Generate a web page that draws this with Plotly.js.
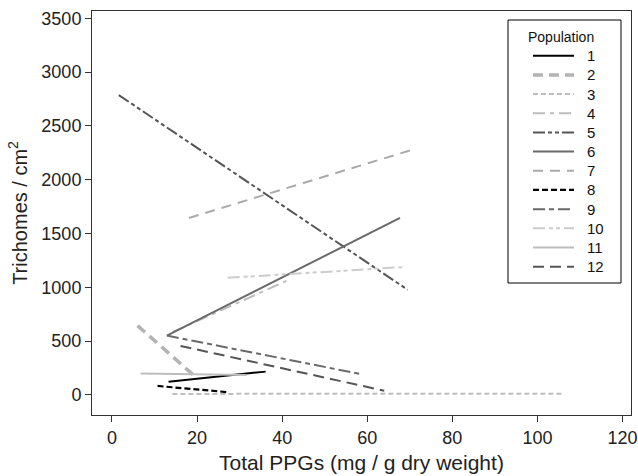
<!DOCTYPE html>
<html>
<head>
<meta charset="utf-8">
<script src="https://cdn.plot.ly/plotly-3.0.1.min.js"></script>
<style>html,body{margin:0;padding:0;background:#fff;}#chart{width:638px;height:476px;}</style>
</head>
<body>
<div id="chart"></div>
<script>
// Population regression lines: start/end values
const populations = ['1','2','3','4','5','6','7','8','9','10','11','12'];
const xStart = [13.3, 6.0, 14.2, 14.3, 1.6, 12.9, 18.1, 10.7, 12.9, 27.2, 6.7, 16.1];
const xEnd   = [36.1, 20.0, 105.7, 41.0, 69.5, 67.7, 71.5, 27.5, 58.4, 68.7, 31.6, 64.0];
const yStart = [124, 645, 10, 585, 2787, 552, 1645, 84, 552, 1089, 200, 456];
const yEnd   = [217, 155, 12, 1060, 977, 1645, 2290, 25, 195, 1189, 185, 40];
const xTicks = [0, 20, 40, 60, 80, 100, 120];
const yTicks = [0, 500, 1000, 1500, 2000, 2500, 3000, 3500];

const colors = ['#000000','#b3b3b3','#bdbdbd','#bdbdbd','#555555','#6a6a6a','#aaaaaa','#000000','#6a6a6a','#cccccc','#bdbdbd','#555555'];
const dashes = ['solid','10px,6px','5px,3px','12px,5px,4px,5px','12px,3px,4px,3px,4px,3px','solid','10px,7px','6px,3px','12px,4px,5px,4px','12px,4px,4px,3px,4px,4px','solid','11px,6px'];
const widths = [2,3.5,2,2,2,2,2,2.2,2,2,2,2];

const W = 638, H = 476, M = {l:92, r:7, t:11, b:61};
const px2x = px => (px - M.l) / (W - M.l - M.r);
const px2y = py => (H - M.b - py) / (H - M.t - M.b);

const traces = populations.map((p,i)=>({
  type:'scatter', mode:'lines', name:p, showlegend:false,
  x:[xStart[i], xEnd[i]], y:[yStart[i], yEnd[i]],
  line:{color:colors[i], dash:dashes[i], width:widths[i]}
}));

// Hand-built legend box (matches the reference layout)
const shapes = [{
  type:'rect', xref:'paper', yref:'paper',
  x0:px2x(508), x1:px2x(621), y0:px2y(283), y1:px2y(20),
  line:{color:'#000', width:1}, fillcolor:'#fff', layer:'above'
}];
const annotations = [{
  xref:'paper', yref:'paper', x:px2x(561), y:px2y(36.7), xanchor:'center', yanchor:'middle',
  text:'Population', showarrow:false, font:{size:14, color:'#111'}
}];
populations.forEach((p,i)=>{
  const yy = 55.7 + 19.18*i;
  shapes.push({type:'line', xref:'paper', yref:'paper', x0:px2x(533), x1:px2x(574), y0:px2y(yy), y1:px2y(yy),
    line:{color:colors[i], dash:dashes[i], width:widths[i]}, layer:'above'});
  annotations.push({xref:'paper', yref:'paper', x:px2x(585), y:px2y(yy), xanchor:'left', yanchor:'middle',
    text:p, showarrow:false, font:{size:15, color:'#111'}});
});

const layout = {
  width:W, height:H,
  margin:M,
  paper_bgcolor:'#fff', plot_bgcolor:'#fff',
  font:{family:'Liberation Sans, Arial, sans-serif', color:'#222', size:14},
  showlegend:false,
  shapes:shapes, annotations:annotations,
  xaxis:{
    range:[-4.7,122.0], tickvals:xTicks,
    showgrid:false, zeroline:false, showline:true, linecolor:'#333', linewidth:1, mirror:true,
    ticks:'outside', ticklen:6, tickcolor:'#333', tickfont:{size:18},
    title:{text:'Total PPGs (mg / g dry weight)', font:{size:21}, standoff:8}
  },
  yaxis:{
    range:[-186,3568], tickvals:yTicks,
    showgrid:false, zeroline:false, showline:true, linecolor:'#333', linewidth:1, mirror:true,
    ticks:'outside', ticklen:6, tickcolor:'#333', tickfont:{size:18},
    title:{text:'Trichomes / cm<sup>2</sup>', font:{size:20}, standoff:8}
  }
};
Plotly.newPlot('chart', traces, layout, {displayModeBar:false, staticPlot:true});
</script>
</body>
</html>
